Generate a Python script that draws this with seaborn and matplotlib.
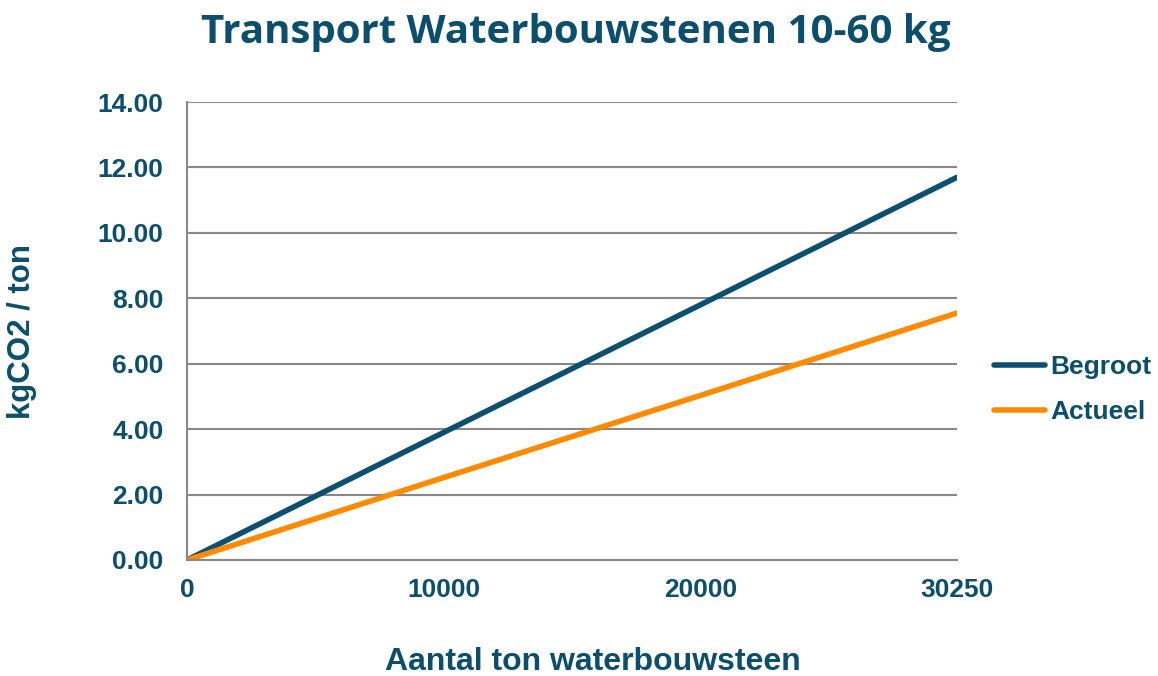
import pandas as pd
import seaborn as sns
import matplotlib
matplotlib.use("Agg")
import matplotlib.pyplot as plt
from matplotlib.lines import Line2D

# data
tonnage = ["0", "10000", "20000", "30250"]
begroot = [0.0, 3.9, 7.8, 11.7]
actueel = [0.0, 2.52, 5.03, 7.55]

df = pd.DataFrame({
    "ton": tonnage * 2,
    "kgco2": begroot + actueel,
    "serie": ["Begroot"] * 4 + ["Actueel"] * 4,
})

sns.set_style("white")
plt.rcParams["font.family"] = ["Liberation Sans", "DejaVu Sans"]

navy = "#0b4f6c"
blue_line = "#0d4f70"
orange = "#ff8a00"
grey = "#888888"

fig = plt.figure(figsize=(11.58, 6.76), dpi=100)
ax = fig.add_axes([0.1615, 0.1716, 0.6649, 0.6774])

sns.lineplot(data=df, x="ton", y="kgco2", hue="serie",
             palette={"Begroot": blue_line, "Actueel": orange},
             linewidth=4, sort=False, ax=ax, legend=False)

ax.set_xlim(0, 3)
ax.set_ylim(0, 14)
ax.set_yticks([0, 2, 4, 6, 8, 10, 12, 14])
ax.set_yticklabels([f"{v:.2f}" for v in range(0, 15, 2)])
ax.yaxis.grid(True, color=grey, linewidth=1.5)
ax.set_axisbelow(True)

for s in ["top", "right"]:
    ax.spines[s].set_visible(False)
for s in ["left", "bottom"]:
    ax.spines[s].set_color(grey)
    ax.spines[s].set_linewidth(1.5)

ax.tick_params(axis="both", direction="out", length=5, width=1.5, color=grey,
               labelsize=19, labelcolor=navy)
ax.tick_params(axis="y", pad=12)
ax.tick_params(axis="x", pad=8)
for lbl in ax.get_xticklabels() + ax.get_yticklabels():
    lbl.set_fontweight("bold")

ax.set_xlabel("Aantal ton waterbouwsteen", fontsize=23, fontweight="bold",
              color=navy, va="center")
ax.set_ylabel("kgCO2 / ton", fontsize=22.5, fontweight="bold", color=navy,
              va="center")
ax.xaxis.set_label_coords(0.527, -0.2227)
ax.yaxis.set_label_coords(-0.214, 0.5)

fig.text(0.497, 0.936, "Transport Waterbouwstenen 10-60 kg", ha="center",
         va="baseline", fontsize=29, fontweight="bold", color=navy,
         family=["Open Sans", "DejaVu Sans"])

handles = [Line2D([], [], color=blue_line, lw=4, solid_capstyle="round"),
           Line2D([], [], color=orange, lw=4, solid_capstyle="round")]
leg = fig.legend(handles, ["Begroot", "Actueel"], loc="center left",
                 bbox_to_anchor=(0.8376, 0.424), frameon=False,
                 handlelength=1.95, handletextpad=0.2, labelspacing=0.8,
                 prop={"size": 19, "weight": "bold"})
for t in leg.get_texts():
    t.set_color(navy)

fig.savefig("out.png", dpi=100)
